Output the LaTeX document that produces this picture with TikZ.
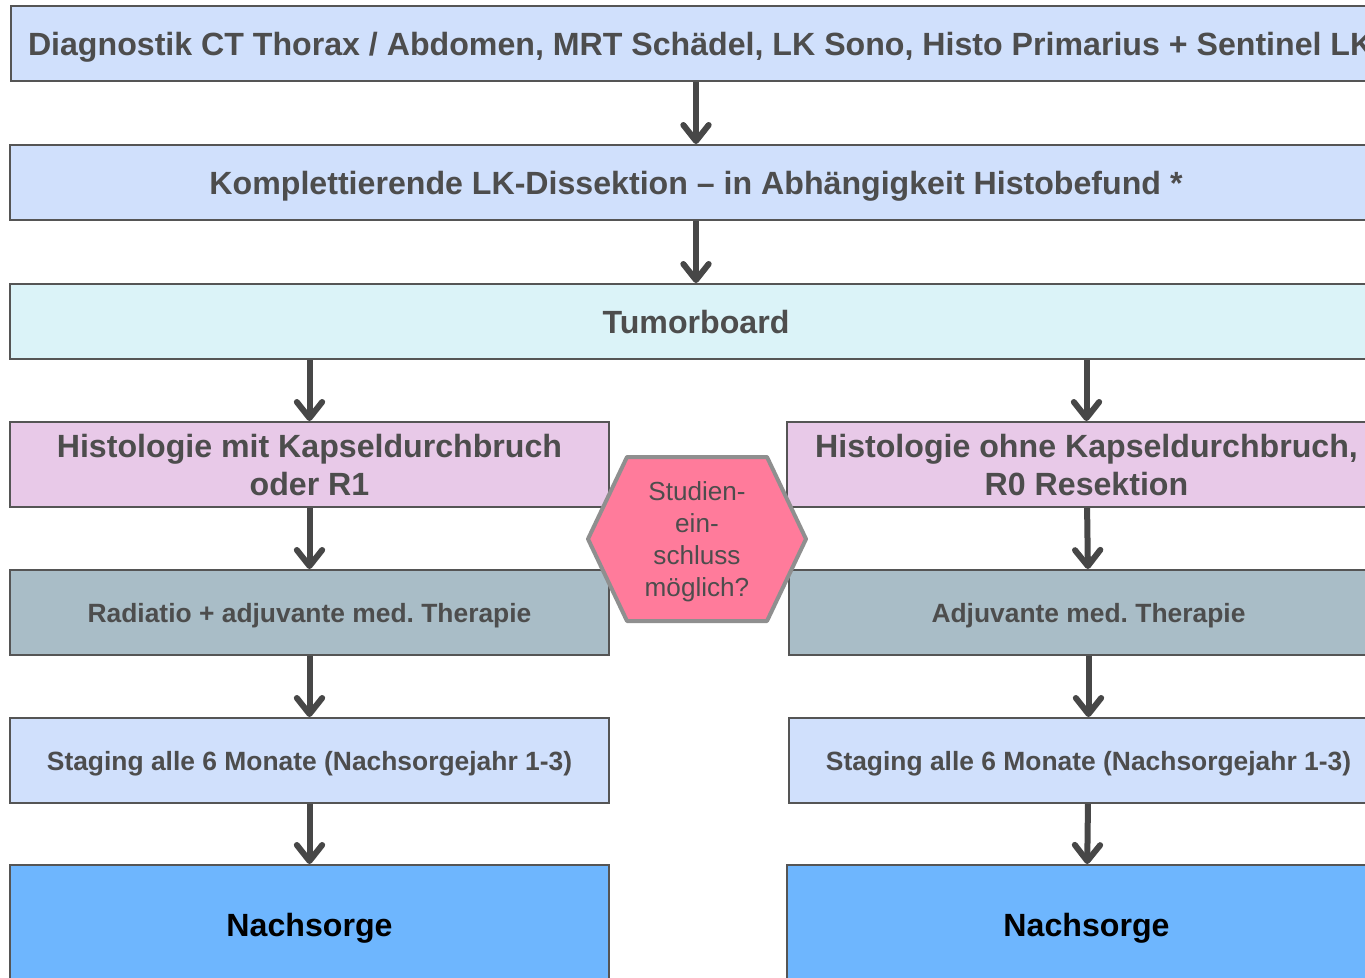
\documentclass[tikz,border=0pt]{standalone}
\usepackage{fontspec}
\setmainfont{Liberation Sans}
\usetikzlibrary{arrows.meta}
\definecolor{lightblue}{HTML}{D0E0FC}
\definecolor{tumorcyan}{HTML}{DBF3F8}
\definecolor{histpink}{HTML}{E8C9E8}
\definecolor{theragray}{HTML}{A9BDC7}
\definecolor{nachblue}{HTML}{6EB6FE}
\definecolor{hexpink}{HTML}{FF7B9B}
\definecolor{hexline}{HTML}{8F8F8F}
\definecolor{boxline}{HTML}{555555}
\definecolor{arrgray}{HTML}{474747}
\definecolor{txtgray}{HTML}{4D4D4D}
\frenchspacing
\begin{document}
\begin{tikzpicture}[x=0.75pt,y=-0.75pt,
box/.style={draw=boxline,line width=1.5pt,inner sep=0pt,text depth=0pt,text=txtgray,align=center,font=\bfseries\fontsize{24.1}{28.5}\selectfont},
wide/.style={box,minimum width=1029pt,minimum height=56.25pt},
col/.style={box,minimum width=449.25pt,minimum height=63.75pt},
small/.style={font=\bfseries\fontsize{19.8}{24}\selectfont},
flow/.style={draw=arrgray,line width=4.5pt,-{Straight Barb[length=12pt,width=19pt,round]}}]
\useasboundingbox (0,0) rectangle (1365,978);
\clip (0,0) rectangle (1365,978);
\node[wide,fill=lightblue,anchor=west,inner xsep=12.75pt](diag) at (10,43.5){Diagnostik CT Thorax / Abdomen, MRT Schädel, LK Sono, Histo Primarius + Sentinel LK};
\node[wide,fill=lightblue](kompl) at (696,182.5){Komplettierende LK-Dissektion – in Abhängigkeit Histobefund *};
\node[wide,fill=tumorcyan](board) at (696,321.5){Tumorboard};
%left column
\node[col,fill=histpink](histL) at (309.5,464.5){Histologie mit Kapseldurchbruch\\oder R1};
\node[col,small,fill=theragray](theraL) at (309.5,612.5){Radiatio + adjuvante med. Therapie};
\node[col,small,fill=lightblue](stagL) at (309.5,760.5){Staging alle 6 Monate (Nachsorgejahr 1-3)};
\node[col,fill=nachblue,text=black,minimum height=90pt](nachL) at (309.5,925){Nachsorge};
%right column
\node[col,fill=histpink](histR) at (1086.5,464.5){Histologie ohne Kapseldurchbruch,\\R0 Resektion};
\node[col,small,fill=theragray](theraR) at (1088.5,612.5){Adjuvante med. Therapie};
\node[col,small,fill=lightblue](stagR) at (1088.5,760.5){Staging alle 6 Monate (Nachsorgejahr 1-3)};
\node[col,fill=nachblue,text=black,minimum height=90pt](nachR) at (1086.5,925){Nachsorge};
%hexagon
\coordinate(hexc) at (697,539);
\draw[line width=3pt,draw=hexline,fill=hexpink,line join=round](hexc)++(-109,0)--++(39,-82)--++(140,0)--++(39,82)--++(-39,82)--++(-140,0)--cycle;
\node[text=txtgray,align=center,text depth=0pt,font=\fontsize{19.6}{24}\selectfont](study) at (hexc){Studien-\\ein-\\schluss\\möglich?};
%arrows
\draw[flow](kompl.north|-diag.south)--(kompl);
\draw[flow](kompl)--(board);
\draw[flow](histL.north|-board.south)--(histL);
\draw[flow](histR.north|-board.south)--(histR);
\draw[flow](histL)--(theraL);
\draw[flow](theraL)--(stagL);
\draw[flow](stagL)--(nachL);
\draw[flow](histR)--(theraR);
\draw[flow](theraR)--(stagR);
\draw[flow](stagR)--(nachR);
\end{tikzpicture}
\end{document}
